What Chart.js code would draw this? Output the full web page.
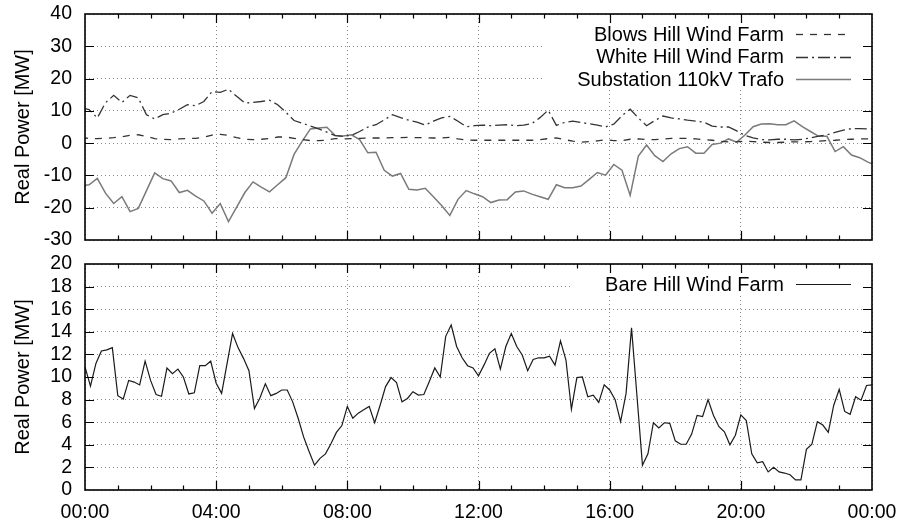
<!DOCTYPE html>
<html>
<head>
<meta charset="utf-8">
<title>Real Power</title>
<script src="https://cdn.jsdelivr.net/npm/chart.js@4.4.1/dist/chart.umd.min.js"></script>
<style>
  body { margin: 0; background: #fff; }
  #wrap { position: relative; width: 905px; height: 524px; }
  canvas { position: absolute; left: 0; }
  #topChart { top: 0; }
  #bottomChart { top: 250px; }
</style>
</head>
<body>
<div id="wrap">
  <canvas id="topChart" width="905" height="252"></canvas>
  <canvas id="bottomChart" width="905" height="274"></canvas>
</div>
<script>
// sample clocks in minutes after midnight
// top panel: 15 min averages plotted at the interval midpoint
const topTimes = Array.from({ length: 98 }, (_, k) => k * 15 - 7.5);
// bottom panel: 10 min samples
const bottomTimes = Array.from({ length: 145 }, (_, i) => i * 10);

const blowsHill = [
  1.6, 1.5, 1.4, 1.5, 1.7, 2.0, 2.4, 2.6, 2.1, 1.4,
  1.2, 1.1, 1.3, 1.4, 1.5, 1.8, 2.5, 2.7, 2.4, 1.7,
  1.2, 1.1, 1.2, 1.4, 1.9, 1.9, 1.5, 1.1, 0.8, 0.8,
  0.9, 1.4, 1.3, 1.4, 1.5, 1.6, 1.6, 1.6, 1.7, 1.7,
  1.8, 1.7, 1.7, 1.6, 1.6, 1.8, 1.3, 1.0, 0.9, 0.9,
  0.9, 0.9, 0.9, 0.9, 0.9, 0.9, 1.1, 1.4, 1.6, 1.1,
  0.6, 0.3, 0.5, 0.7, 1.1, 0.8, 0.8, 1.2, 1.3, 1.1,
  1.1, 1.2, 1.5, 1.5, 1.5, 1.3, 1.1, 0.9, 0.6, 0.4,
  0.4, 0.6, 0.5, 0.3, 0.2, 0.2, 0.3, 0.4, 0.4, 0.5,
  0.6, 0.8, 0.9, 1.1, 1.2, 1.3, 1.3, 1.3
];

const whiteHill = [
  11.0, 10.4, 7.8, 12.5, 14.8, 12.6, 14.8, 14.0, 8.8, 7.5,
  8.8, 9.3, 10.5, 11.9, 11.6, 12.9, 16.0, 15.7, 16.7, 14.5,
  12.4, 12.6, 12.9, 13.3, 11.9, 9.6, 7.0, 6.2, 5.3, 4.4,
  3.4, 2.3, 2.1, 2.4, 3.6, 5.0, 5.7, 7.2, 8.8, 7.9,
  7.1, 6.5, 5.6, 6.8, 7.8, 8.3, 6.8, 5.1, 5.4, 5.6,
  5.4, 5.6, 5.7, 5.4, 5.6, 6.0, 7.9, 10.2, 5.5, 6.4,
  6.8, 6.4, 6.0, 5.6, 5.0, 5.9, 8.5, 10.5, 7.8, 5.4,
  7.0, 8.4, 7.8, 7.5, 7.1, 6.8, 6.5, 5.3, 5.0, 5.0,
  3.8, 2.4, 1.6, 1.1, 1.0, 1.2, 1.2, 1.0, 1.2, 1.6,
  2.2, 2.6, 3.3, 4.0, 4.5, 4.5, 4.4, 4.4
];

const substation = [
  -13.2, -12.9, -10.9, -15.5, -18.7, -16.6, -21.2, -20.2, -14.7, -9.2,
  -11.0, -11.7, -15.3, -14.6, -16.4, -17.9, -21.7, -18.7, -24.3, -19.8,
  -15.3, -12.0, -13.6, -15.1, -12.9, -10.7, -3.5, 0.6, 4.4, 4.7,
  4.9, 2.4, 2.2, 2.6, 1.1, -3.0, -2.8, -8.4, -10.2, -9.4,
  -14.3, -14.5, -14.0, -16.6, -19.3, -22.4, -17.4, -14.7, -15.7, -16.6,
  -18.4, -17.6, -17.5, -15.1, -14.8, -15.8, -16.6, -17.4, -12.9, -13.8,
  -13.8, -13.3, -11.2, -9.1, -9.9, -6.6, -8.4, -16.2, -4.0, -0.6,
  -3.9, -5.7, -3.3, -1.7, -1.1, -3.1, -3.1, -0.4, 0.0, 1.3,
  0.3, 2.5, 5.1, 5.9, 6.0, 5.7, 5.7, 6.9, 5.1, 3.6,
  2.1, 2.1, -2.6, -1.1, -3.7, -4.5, -5.9, -6.9
];

const bareHill = [
  10.9, 9.2, 11.2, 12.3, 12.4, 12.6, 8.35, 8.05, 9.7, 9.55,
  9.3, 11.4, 9.7, 8.45, 8.3, 10.8, 10.3, 10.7, 10.0, 8.5,
  8.6, 11.0, 11.0, 11.4, 9.45, 8.55, 11.2, 13.85, 12.6, 11.65,
  10.55, 7.2, 8.15, 9.4, 8.35, 8.55, 8.85, 8.85, 7.8, 6.35,
  4.7, 3.4, 2.2, 2.8, 3.2, 4.1, 5.1, 5.7, 7.4, 6.35,
  6.8, 7.1, 7.4, 5.95, 7.5, 9.15, 9.95, 9.5, 7.8, 8.1,
  8.7, 8.4, 8.45, 9.6, 10.8, 10.0, 13.6, 14.6, 12.7, 11.7,
  11.0, 10.8, 10.1, 11.05, 12.1, 12.5, 10.7, 12.7, 13.85, 12.7,
  11.95, 10.55, 11.55, 11.7, 11.7, 11.85, 11.05, 13.2, 11.5, 7.15,
  9.95, 10.0, 8.25, 8.4, 7.75, 9.3, 8.85, 8.0, 6.05, 8.55,
  14.35, 8.3, 2.2, 3.2, 5.95, 5.5, 5.95, 5.9, 4.35, 4.05,
  4.05, 4.95, 6.6, 6.5, 8.0, 6.6, 5.6, 5.15, 4.0, 4.85,
  6.65, 6.15, 3.2, 2.4, 2.5, 1.6, 2.0, 1.6, 1.5, 1.35,
  0.9, 0.9, 3.6, 4.05, 6.05, 5.75, 5.1, 7.5, 8.9, 6.95,
  6.7, 8.25, 7.95, 9.25, 9.3
];

const topLimits = { min: -30, max: 40, step: 10 };
const bottomLimits = { min: 0, max: 20, step: 2 };
const yTitle = 'Real Power [MW]';

const FONT = "'Liberation Sans', Arial, Helvetica, sans-serif";
const GRID = '#8a8a8a';

function pts(times, vals) {
  return vals.map((v, i) => ({ x: times[i], y: v }));
}

function hhmm(v) {
  const h = Math.floor(v / 60) % 24;
  const m = v % 60;
  return String(h).padStart(2, '0') + ':' + String(m).padStart(2, '0');
}

// gnuplot style: frame, inward mirrored ticks, key with text left of the sample
const gnuFrame = {
  id: 'gnuFrame',
  keyBox(chart) {
    const { ctx, chartArea: a } = chart;
    ctx.save();
    ctx.font = '20px ' + FONT;
    const w = Math.max(...chart.data.datasets.map(d => ctx.measureText(d.label).width));
    ctx.restore();
    const n = chart.data.datasets.length;
    return {
      textRight: a.right - 88,
      left: a.right - 88 - w - 35,
      bottom: a.top + 20 + (n - 1) * 22.5 + 11
    };
  },
  beforeDatasetsDraw(chart) {
    const { ctx, chartArea: a } = chart;
    const box = this.keyBox(chart);
    ctx.save();
    ctx.fillStyle = '#fff';
    ctx.fillRect(box.left, a.top + 1, a.right - 1 - box.left, box.bottom - a.top - 1);
    ctx.restore();
  },
  afterDraw(chart) {
    const { ctx, chartArea: a, scales } = chart;
    ctx.save();
    ctx.strokeStyle = '#000';
    ctx.lineWidth = 1.2;
    ctx.beginPath();
    scales.x.ticks.forEach(t => {
      if (t.value <= 0 || t.value >= 1440) return;
      const px = Math.round(scales.x.getPixelForValue(t.value)) + 0.5;
      const len = t.value % 240 === 0 ? 9 : 4.5;
      ctx.moveTo(px, a.bottom); ctx.lineTo(px, a.bottom - len);
      ctx.moveTo(px, a.top); ctx.lineTo(px, a.top + len);
    });
    scales.y.ticks.forEach(t => {
      const py = Math.round(scales.y.getPixelForValue(t.value)) + 0.5;
      if (py <= a.top + 1 || py >= a.bottom - 1) return;
      ctx.moveTo(a.left, py); ctx.lineTo(a.left + 9, py);
      ctx.moveTo(a.right, py); ctx.lineTo(a.right - 9, py);
    });
    ctx.stroke();

    ctx.lineWidth = 1.6;
    ctx.strokeRect(a.left, a.top, a.right - a.left, a.bottom - a.top);

    // key
    const box = this.keyBox(chart);
    ctx.font = '20px ' + FONT;
    ctx.textAlign = 'right';
    ctx.textBaseline = 'middle';
    ctx.fillStyle = '#000';
    chart.data.datasets.forEach((d, i) => {
      const y = a.top + 20 + i * 22.5;
      ctx.fillText(d.label, box.textRight, y + 1);
      ctx.beginPath();
      ctx.strokeStyle = d.borderColor;
      ctx.lineWidth = d.borderWidth;
      ctx.setLineDash(d.borderDash || []);
      ctx.moveTo(a.right - 76, Math.round(y) + 0.5);
      ctx.lineTo(a.right - 21, Math.round(y) + 0.5);
      ctx.stroke();
    });
    ctx.restore();
  }
};

function panelOptions(lim, showX) {
  const tickFont = { family: FONT, size: 19.5 };
  return {
    responsive: false,
    animation: false,
    devicePixelRatio: 1,
    layout: { padding: { top: 14, right: 33, bottom: showX ? 0 : 12, left: 0 } },
    plugins: { legend: { display: false }, tooltip: { enabled: false } },
    elements: { point: { radius: 0 }, line: { tension: 0, fill: false } },
    scales: {
      x: {
        type: 'linear',
        min: 0,
        max: 1440,
        grid: {
          color: c => (c.tick && c.tick.value % 240 === 0) ? GRID : 'rgba(0,0,0,0)',
          drawTicks: false
        },
        border: { display: false, dash: [1, 3] },
        ticks: {
          display: showX,
          stepSize: 60,
          autoSkip: false,
          maxRotation: 0,
          padding: 11,
          color: '#000',
          font: tickFont,
          callback: v => v % 240 === 0 ? hhmm(v) : ''
        },
        afterFit: s => {
          s.height = showX ? 34 : 0;
          s.paddingLeft = 0;
          s.paddingRight = 0;
        }
      },
      y: {
        min: lim.min,
        max: lim.max,
        grid: { color: GRID, drawTicks: false },
        border: { display: false, dash: [1, 3] },
        ticks: { stepSize: lim.step, autoSkip: false, padding: 13, color: '#000', font: tickFont },
        title: {
          display: true,
          text: yTitle,
          color: '#000',
          font: { family: FONT, size: 20 },
          padding: { top: 11, bottom: 0 }
        },
        afterFit: s => {
          s.width = 85;
          s.paddingTop = 0;
          s.paddingBottom = 0;
        }
      }
    }
  };
}

new Chart(document.getElementById('topChart'), {
  type: 'line',
  data: {
    datasets: [
      {
        label: 'Blows Hill Wind Farm',
        data: pts(topTimes, blowsHill),
        borderColor: '#333',
        borderWidth: 1.3,
        borderDash: [7, 7]
      },
      {
        label: 'White Hill Wind Farm',
        data: pts(topTimes, whiteHill),
        borderColor: '#333',
        borderWidth: 1.3,
        borderDash: [12, 4, 2, 4]
      },
      {
        label: 'Substation 110kV Trafo',
        data: pts(topTimes, substation),
        borderColor: '#7a7a7a',
        borderWidth: 1.5
      }
    ]
  },
  options: panelOptions(topLimits, false),
  plugins: [gnuFrame]
});

new Chart(document.getElementById('bottomChart'), {
  type: 'line',
  data: {
    datasets: [
      {
        label: 'Bare Hill Wind Farm',
        data: pts(bottomTimes, bareHill),
        borderColor: '#1a1a1a',
        borderWidth: 1.2
      }
    ]
  },
  options: panelOptions(bottomLimits, true),
  plugins: [gnuFrame]
});
</script>
</body>
</html>
